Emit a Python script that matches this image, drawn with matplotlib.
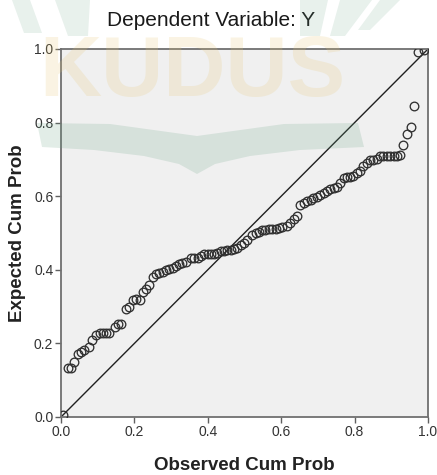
import matplotlib.pyplot as plt
from matplotlib.patches import Polygon
import numpy as np

plt.rcParams['font.family'] = ['Liberation Sans', 'DejaVu Sans']

# observed vs expected cumulative probability
observed = [
    0.006, 0.019, 0.026, 0.035, 0.046, 0.055, 0.064, 0.075, 0.085, 0.096,
    0.105, 0.114, 0.123, 0.132, 0.146, 0.155, 0.164, 0.177, 0.185, 0.195,
    0.205, 0.214, 0.223, 0.232, 0.241, 0.250, 0.259, 0.268, 0.277, 0.286,
    0.295, 0.304, 0.313, 0.322, 0.331, 0.340, 0.354, 0.363, 0.372, 0.381,
    0.390, 0.400, 0.408, 0.417, 0.426, 0.435, 0.444, 0.453, 0.462, 0.471,
    0.480, 0.490, 0.499, 0.508, 0.521, 0.530, 0.539, 0.548, 0.557, 0.566,
    0.575, 0.585, 0.594, 0.603, 0.616, 0.625, 0.634, 0.643, 0.652, 0.661,
    0.670, 0.680, 0.688, 0.697, 0.707, 0.716, 0.725, 0.734, 0.743, 0.752,
    0.761, 0.770, 0.779, 0.788, 0.797, 0.806, 0.815, 0.824, 0.833, 0.842,
    0.851, 0.860, 0.869, 0.878, 0.887, 0.897, 0.906, 0.915, 0.924, 0.933,
    0.942, 0.953, 0.962, 0.972, 0.990,
]
expected = [
    0.005, 0.132, 0.132, 0.150, 0.171, 0.177, 0.182, 0.191, 0.209, 0.223,
    0.227, 0.227, 0.227, 0.227, 0.245, 0.252, 0.254, 0.293, 0.300, 0.318,
    0.320, 0.318, 0.341, 0.347, 0.359, 0.381, 0.388, 0.391, 0.395, 0.400,
    0.402, 0.404, 0.411, 0.415, 0.418, 0.422, 0.432, 0.432, 0.432, 0.438,
    0.442, 0.442, 0.444, 0.444, 0.446, 0.450, 0.450, 0.454, 0.454, 0.456,
    0.459, 0.468, 0.472, 0.480, 0.495, 0.501, 0.504, 0.507, 0.509, 0.511,
    0.511, 0.511, 0.513, 0.515, 0.518, 0.527, 0.538, 0.547, 0.577, 0.581,
    0.586, 0.590, 0.595, 0.599, 0.604, 0.609, 0.615, 0.620, 0.622, 0.625,
    0.636, 0.650, 0.652, 0.652, 0.654, 0.663, 0.668, 0.681, 0.690, 0.698,
    0.698, 0.700, 0.708, 0.708, 0.708, 0.708, 0.708, 0.710, 0.713, 0.740,
    0.768, 0.789, 0.845, 0.992, 0.998,
]
ticks = [0.0, 0.2, 0.4, 0.6, 0.8, 1.0]

W, H = 437, 475
fig = plt.figure(figsize=(W / 100, H / 100), dpi=100)
ax = fig.add_axes([61 / W, (H - 417) / H, 367 / W, 368 / H])
ax.set_facecolor('#f0f0f0')

ax.plot([0, 1], [0, 1], color='#202020', lw=1.0, zorder=2)
ax.plot(observed, expected, 'o', mfc='none', mec='#303030', ms=6.2, mew=0.95, zorder=3)

ax.set_xlim(0, 1)
ax.set_ylim(0, 1)
ax.set_xticks(ticks)
ax.set_yticks(ticks)
ax.set_xticklabels([f'{t:.1f}' for t in ticks])
ax.set_yticklabels([f'{t:.1f}' for t in ticks])
ax.tick_params(direction='out', length=4, width=1.0, color='#606060',
               labelsize=10, labelcolor='#333333', pad=1.5)
for s in ax.spines.values():
    s.set_color('#707070')
    s.set_linewidth(1.3)

fig.text(211 / W, 1 - 20 / H, 'Dependent Variable: Y', ha='center', va='center',
         fontsize=15, color='#1a1a1a')
fig.text(244.5 / W, 10 / H, 'Observed Cum Prob', ha='center', va='center',
         fontsize=13.5, fontweight='bold', color='#222222')
fig.text(18 / W, 1 - 233 / H, 'Expected Cum Prob', ha='center', va='center',
         rotation=90, fontsize=13.5, fontweight='bold', color='#222222')


# faint logo watermark lying over the chart
def px(pts):
    return [(x / W, 1 - y / H) for x, y in pts]


green = (0.40, 0.63, 0.51)
fig.text(192 / W, 1 - 74 / H, 'KUDUS', ha='center', va='center', fontsize=62,
         fontweight='bold', color=(0.90, 0.78, 0.45), alpha=0.2, zorder=10)

book = [(37, 123), (110, 124), (197, 136), (284, 124), (358, 123), (364, 147),
        (300, 150), (250, 156), (215, 164), (197, 174), (179, 164), (144, 156),
        (94, 150), (42, 147)]
fig.patches.append(Polygon(px(book), closed=True, transform=fig.transFigure,
                           fc=green, ec='none', alpha=0.19, zorder=10))
tops = [
    [(12, 0), (30, 0), (42, 33), (24, 33)],
    [(55, 0), (90, 0), (88, 36), (68, 36)],
    [(300, 0), (328, 0), (320, 36), (300, 36)],
    [(340, 0), (372, 0), (345, 36), (330, 36)],
    [(380, 0), (400, 0), (370, 30), (358, 30)],
]
for t in tops:
    fig.patches.append(Polygon(px(t), closed=True, transform=fig.transFigure,
                               fc=green, ec='none', alpha=0.15, zorder=10))

fig.savefig('out.png', dpi=100)
